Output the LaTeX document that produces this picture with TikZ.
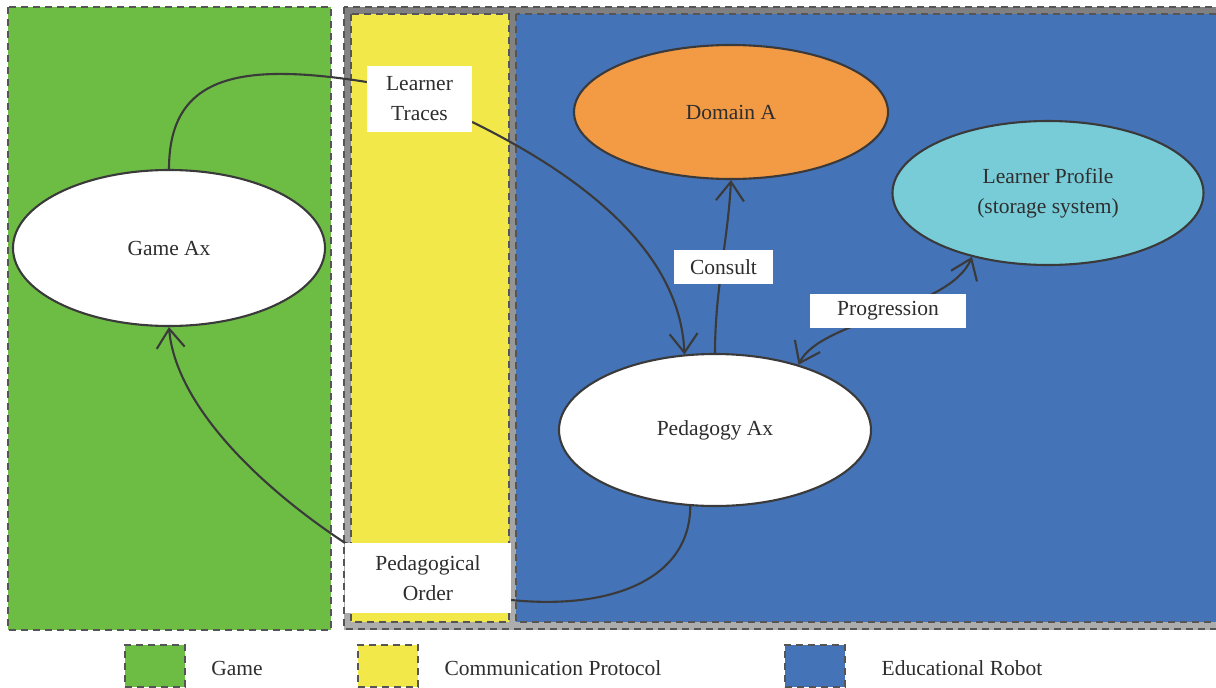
\documentclass[tikz,border=0pt]{standalone}
\usepackage{fontspec}
\setmainfont{Liberation Serif}
\usetikzlibrary{arrows.meta,positioning,shapes.geometric}
\pgfdeclarelayer{zones}
\pgfdeclarelayer{links}
\pgfsetlayers{zones,links,main}

\definecolor{gamegreen}{HTML}{6DBD45}
\definecolor{protoyellow}{HTML}{F2E84A}
\definecolor{robotblue}{HTML}{4473B7}
\definecolor{domainorange}{HTML}{F39A45}
\definecolor{profilecyan}{HTML}{78CCD8}
\definecolor{inkgray}{HTML}{3A3A3A}
\definecolor{dashgray}{HTML}{555555}
\definecolor{txtgray}{HTML}{2E2E2E}

\tikzset{
  zone/.style={draw=dashgray, line width=1.5pt, dash pattern=on 7pt off 5pt},
  agent/.style={ellipse, draw=inkgray, line width=2.1pt, inner sep=0pt,
    text=txtgray, font=\fontsize{21.5}{30}\selectfont, align=center},
  tag/.style={rectangle, fill=white, inner sep=0pt, text=txtgray,
    font=\fontsize{21.5}{30}\selectfont, align=center},
  link/.style={draw=inkgray, line width=2.1pt},
  tip/.style={-{Straight Barb[length=19pt,width=28pt]}},
  tips/.style={{Straight Barb[length=19pt,width=28pt]}-{Straight Barb[length=19pt,width=28pt]}},
  legendtxt/.style={text=txtgray, font=\fontsize{21.5}{24}\selectfont, inner sep=0pt}
}

\begin{document}
\begin{tikzpicture}[x=1pt,y=-1pt]
\clip (0,0) rectangle (1216,688);

% coloured zones
\begin{pgfonlayer}{zones}
  \fill[white] (0,0) rectangle (1216,688);
  \fill[gamegreen] (8,7) rectangle (331,630);
  \draw[zone] (8,7) rectangle (331,630);
  \shade[top color=black!50, bottom color=black!32] (344,7) rectangle (1230,629);
  \draw[zone] (344,7) rectangle (1230,629);
  \fill[protoyellow] (351,14) rectangle (509,622);
  \draw[zone] (351,14) rectangle (509,622);
  \fill[robotblue] (516,14) rectangle (1230,622);
  \draw[zone] (516,14) rectangle (1230,622);
\end{pgfonlayer}

% agents
\node[agent, fill=white, minimum width=312pt, minimum height=156pt] (game) at (169,248) {Game Ax};
\node[agent, fill=domainorange, minimum width=314pt, minimum height=134pt] (domain) at (731,112) {Domain A};
\node[agent, fill=profilecyan, minimum width=311pt, minimum height=144pt] (profile) at (1048,193) {Learner Profile\\(storage system)};
\node[agent, fill=white, minimum width=312pt, minimum height=152pt] (ped) at (715,430) {Pedagogy Ax};

% message labels
\node[tag, minimum width=105pt, minimum height=66pt] (traces) at (419.5,99) {Learner\\Traces};
\node[tag, minimum width=166pt, minimum height=70pt] (order) at (428,578) {Pedagogical\\Order};
\node[tag, minimum width=99pt, minimum height=34pt] (consult) at (723.5,267) {Consult};
\node[tag, minimum width=156pt, minimum height=34pt] (progress) at (888,311) {Progression};

% connectors
\begin{pgfonlayer}{links}
  \draw[link] (game.north) .. controls (169,75) and (240,62) .. ([yshift=17pt]traces.west);
  \draw[link] ([yshift=17pt]traces.west) -- ([yshift=-23pt]traces.east);
  \draw[link, tip] ([yshift=-23pt]traces.east) .. controls (580,175) and (680,250) .. (ped.112);
  \draw[link, tip] (ped.north) .. controls (715,290) and (728,240) .. (domain.south);
  \draw[link, tips] (ped.38) .. controls (820,320) and (950,310) .. (profile.220);
  \draw[link] (ped.252) .. controls (690,580) and (610,610) .. ([yshift=-22pt]order.east);
  \draw[link] ([yshift=-22pt]order.east) -- (order.north west);
  \draw[link, tip] (order.north west) .. controls (250,480) and (175,400) .. (game.south);
\end{pgfonlayer}

% legend
\node[zone, fill=gamegreen, minimum width=60pt, minimum height=42pt, inner sep=0pt] (lgame) at (155,666) {};
\node[legendtxt] (tgame) at (237,668) {Game};
\node[zone, fill=protoyellow, minimum width=60pt, minimum height=42pt, inner sep=0pt] (lproto) at (388,666) {};
\node[legendtxt] (tproto) at (553,668) {Communication Protocol};
\node[zone, fill=robotblue, minimum width=60pt, minimum height=42pt, inner sep=0pt] (lrobot) at (815,666) {};
\node[legendtxt] (trobot) at (962,668) {Educational Robot};
\end{tikzpicture}
\end{document}
